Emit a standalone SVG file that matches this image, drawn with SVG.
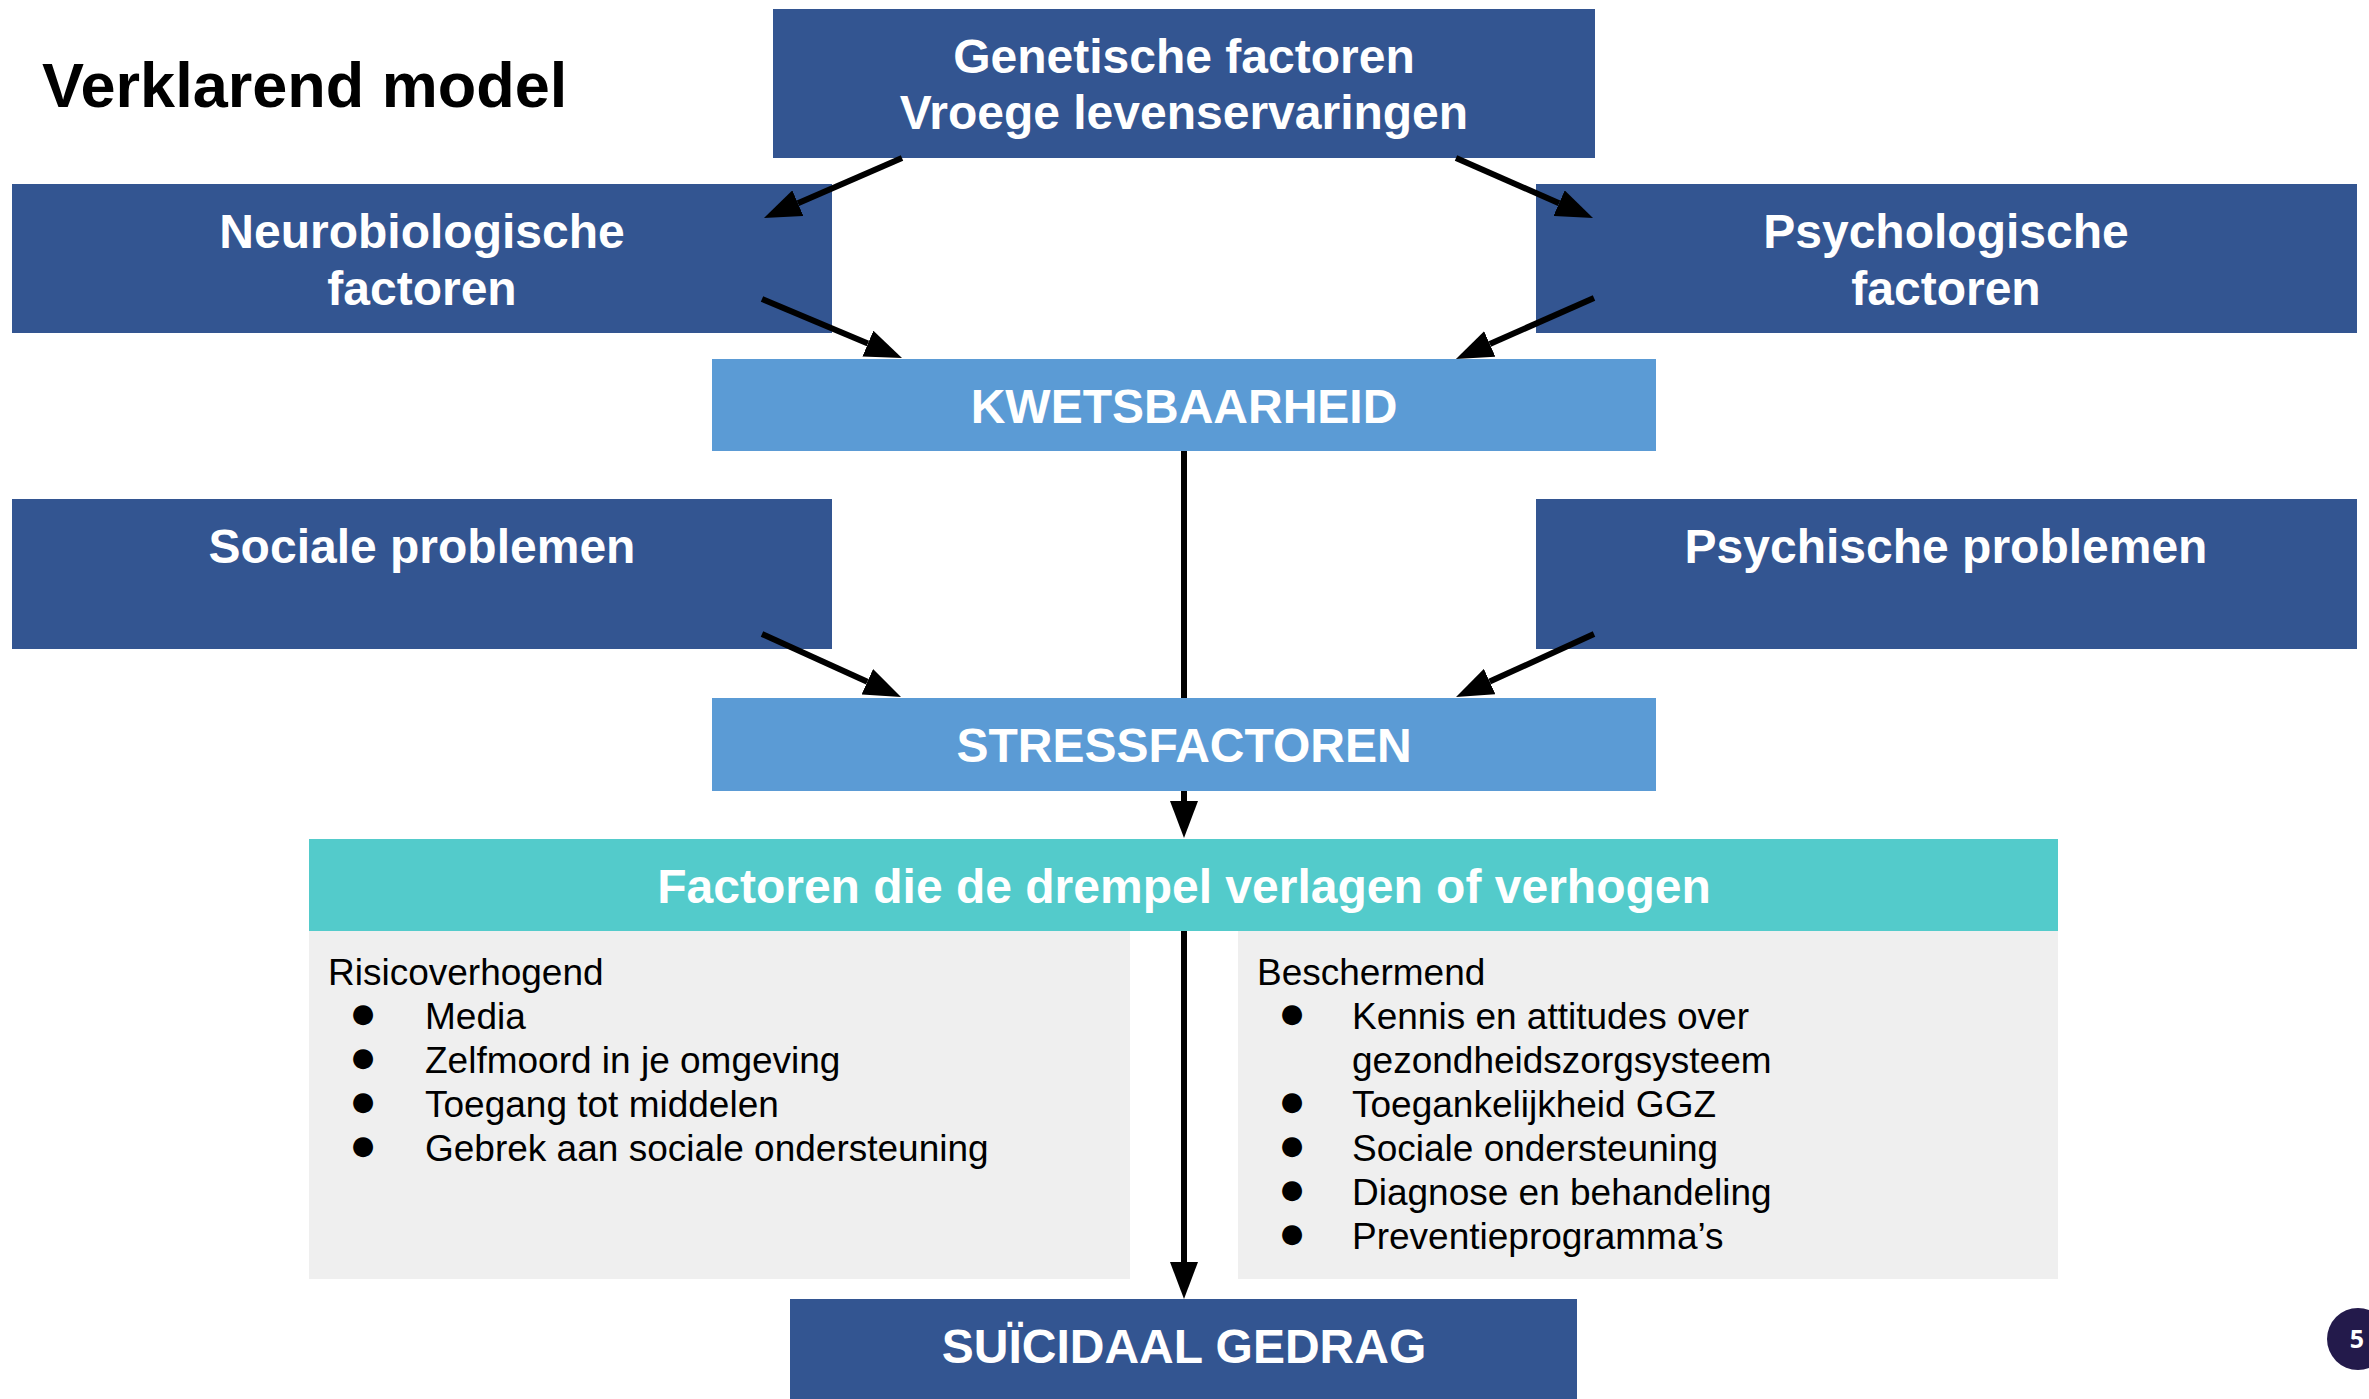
<svg xmlns="http://www.w3.org/2000/svg" width="2369" height="1399" viewBox="0 0 2369 1399">
<defs>
<style>
.dark{fill:#335591}
.light{fill:#5b9bd5}
.teal{fill:#53cbcb}
.grey{fill:#efefef}
.bt{font-family:"Liberation Sans",Arial,sans-serif;font-weight:bold;font-size:48px;fill:#ffffff;text-anchor:middle}
.lt{font-family:"Liberation Sans",Arial,sans-serif;font-size:37px;fill:#000000}
.bul{font-family:"DejaVu Sans",sans-serif;font-size:26px;fill:#000000;text-anchor:middle}
.conn{stroke:#000000;stroke-width:6;fill:none}
</style>
<marker id="ah" markerUnits="userSpaceOnUse" markerWidth="38" markerHeight="28" refX="0" refY="14" orient="auto" viewBox="0 0 38 28">
<path d="M0,0 L37,14 L0,28 z" fill="#000000"/>
</marker>
</defs>
<rect width="2369" height="1399" fill="#ffffff"/>
<text x="42" y="107" font-family="Liberation Sans,Arial,sans-serif" font-weight="bold" font-size="63" fill="#000000">Verklarend model</text>

<g id="node-genetische">
<rect class="dark" x="773" y="9" width="822" height="149"/>
<text class="bt" x="1184" y="73">Genetische factoren</text>
<text class="bt" x="1184" y="129">Vroege levenservaringen</text>
</g>
<g id="node-neurobiologische">
<rect class="dark" x="12" y="184" width="820" height="149"/>
<text class="bt" x="422" y="248">Neurobiologische</text>
<text class="bt" x="422" y="305">factoren</text>
</g>
<g id="node-psychologische">
<rect class="dark" x="1536" y="184" width="821" height="149"/>
<text class="bt" x="1946" y="248">Psychologische</text>
<text class="bt" x="1946" y="305">factoren</text>
</g>
<g id="node-kwetsbaarheid">
<rect class="light" x="712" y="359" width="944" height="92"/>
<text class="bt" x="1184" y="423">KWETSBAARHEID</text>
</g>
<g id="node-sociale">
<rect class="dark" x="12" y="499" width="820" height="150"/>
<text class="bt" x="422" y="563">Sociale problemen</text>
</g>
<g id="node-psychische">
<rect class="dark" x="1536" y="499" width="821" height="150"/>
<text class="bt" x="1946" y="563">Psychische problemen</text>
</g>
<g id="node-stressfactoren">
<rect class="light" x="712" y="698" width="944" height="93"/>
<text class="bt" x="1184" y="762">STRESSFACTOREN</text>
</g>
<g id="node-drempel">
<rect class="teal" x="309" y="839" width="1749" height="92"/>
<text class="bt" x="1184" y="903">Factoren die de drempel verlagen of verhogen</text>
</g>
<g id="node-risico">
<rect class="grey" x="309" y="931" width="821" height="348"/>
<text class="lt" x="328" y="985">Risicoverhogend</text>
<text class="bul" x="363" y="1022">●</text><text class="lt" x="425" y="1029">Media</text>
<text class="bul" x="363" y="1066">●</text><text class="lt" x="425" y="1073">Zelfmoord in je omgeving</text>
<text class="bul" x="363" y="1110">●</text><text class="lt" x="425" y="1117">Toegang tot middelen</text>
<text class="bul" x="363" y="1154">●</text><text class="lt" x="425" y="1161">Gebrek aan sociale ondersteuning</text>
</g>
<g id="node-beschermend">
<rect class="grey" x="1238" y="931" width="820" height="348"/>
<text class="lt" x="1257" y="985">Beschermend</text>
<text class="bul" x="1292" y="1022">●</text><text class="lt" x="1352" y="1029">Kennis en attitudes over</text>
<text class="lt" x="1352" y="1073">gezondheidszorgsysteem</text>
<text class="bul" x="1292" y="1110">●</text><text class="lt" x="1352" y="1117">Toegankelijkheid GGZ</text>
<text class="bul" x="1292" y="1154">●</text><text class="lt" x="1352" y="1161">Sociale ondersteuning</text>
<text class="bul" x="1292" y="1198">●</text><text class="lt" x="1352" y="1205">Diagnose en behandeling</text>
<text class="bul" x="1292" y="1242">●</text><text class="lt" x="1352" y="1249">Preventieprogramma’s</text>
</g>
<g id="node-suicidaal">
<rect class="dark" x="790" y="1299" width="787" height="100"/>
<text class="bt" x="1184" y="1363">SUÏCIDAAL GEDRAG</text>
</g>

<g id="connectors">
<path class="conn" d="M902,158 L797.9,203.2" marker-end="url(#ah)"/>
<path class="conn" d="M1456,158 L1559.1,203.2" marker-end="url(#ah)"/>
<path class="conn" d="M762,299 L867.9,343.6" marker-end="url(#ah)"/>
<path class="conn" d="M1594,298 L1489.8,344" marker-end="url(#ah)"/>
<path class="conn" d="M762,634 L867.3,681.8" marker-end="url(#ah)"/>
<path class="conn" d="M1594,634 L1489.7,681.6" marker-end="url(#ah)"/>
<path class="conn" d="M1184,451 V698"/>
<path class="conn" d="M1184,791 V801" marker-end="url(#ah)"/>
<path class="conn" d="M1184,931 V1262" marker-end="url(#ah)"/>
</g>

<g id="page-number">
<circle cx="2358" cy="1339" r="31" fill="#231a4b"/>
<text x="2357" y="1348" font-family="Open Sans,sans-serif" font-weight="bold" font-size="25" fill="#ffffff" text-anchor="middle">5</text>
</g>
</svg>
